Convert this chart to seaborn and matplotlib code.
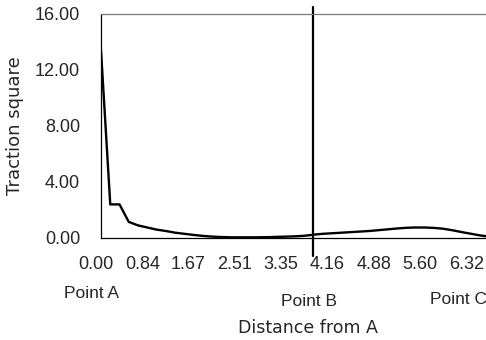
import numpy as np
import pandas as pd
import seaborn as sns
import matplotlib

matplotlib.use("Agg")
import matplotlib.pyplot as plt
import matplotlib.transforms as mtransforms


# Category labels shown under the x axis (one every 5 points)
tick_labels = ["0.00", "0.84", "1.67", "2.51", "3.35", "4.16", "4.88", "5.60", "6.32"]
tick_step = 5

# Traction square, one value per sample point along the path
traction = [
    13.4, 2.4, 2.4, 1.15, 0.9, 0.75, 0.6, 0.5, 0.38, 0.3,
    0.22, 0.15, 0.1, 0.07, 0.05, 0.05, 0.05, 0.05, 0.06, 0.08,
    0.1, 0.12, 0.16, 0.24, 0.3, 0.34, 0.38, 0.42, 0.46, 0.5,
    0.56, 0.62, 0.68, 0.73, 0.75, 0.75, 0.72, 0.66, 0.55, 0.42,
    0.3, 0.18, 0.1,
]

point_names = ["Point A", "Point B", "Point C"]
point_b_index = 22.9


def main():
    df = pd.DataFrame({"idx": np.arange(len(traction)), "traction": traction})

    sns.set_style("white")
    plt.rcParams["font.family"] = ["DejaVu Sans"]

    fig = plt.figure(figsize=(4.86, 3.4), dpi=100)
    ax = fig.add_axes([101 / 486, 1 - 238 / 340, 385 / 486, 224 / 340])

    sns.lineplot(data=df, x="idx", y="traction", color="black", linewidth=1.7, ax=ax)

    ax.set_xlim(0, 41.6)
    ax.set_ylim(0, 16)

    ticks = [i * tick_step for i in range(len(tick_labels))]
    ax.set_xticks(ticks)
    ax.set_xticklabels(tick_labels, family="Liberation Sans", fontsize=13)
    yt = [0, 4, 8, 12, 16]
    ax.set_yticks(yt)
    ax.set_yticklabels([f"{v:.2f}" for v in yt], family="Liberation Sans", fontsize=13)
    ax.tick_params(axis="both", direction="in", length=5, width=0.8, color="#333333")
    ax.tick_params(axis="x", pad=13)
    ax.tick_params(axis="y", pad=15)

    # x labels sit a little left of their ticks in the original
    shift = mtransforms.ScaledTranslation(-5 / 100, 0, fig.dpi_scale_trans)
    for lab in ax.get_xticklabels():
        lab.set_transform(lab.get_transform() + shift)

    for side in ["left", "bottom"]:
        ax.spines[side].set_color("black")
        ax.spines[side].set_linewidth(0.9)
    ax.spines["top"].set_color("#777777")
    ax.spines["top"].set_linewidth(0.9)
    ax.spines["right"].set_visible(False)

    # vertical marker at Point B, extending past the frame
    ax.axvline(point_b_index, ymin=-0.08, ymax=1.03, color="black", linewidth=1.6, clip_on=False)

    ax.set_xlabel("")
    ax.set_ylabel("")

    fig.text(15 / 486, 1 - 126 / 340, "Traction square", ha="center", va="center",
             rotation=90, fontsize=13)
    fig.text(308 / 486, 1 - 328 / 340, "Distance from A", ha="center", va="center", fontsize=12.5)

    pos = [(92, 294), (309, 301), (458, 299)]
    for name, (px, py) in zip(point_names, pos):
        fig.text(px / 486, 1 - py / 340, name, ha="center", va="center",
                 family="Liberation Sans", fontsize=12.5)

    fig.savefig("out.png", dpi=100)
    plt.close(fig)


if __name__ == "__main__":
    main()
